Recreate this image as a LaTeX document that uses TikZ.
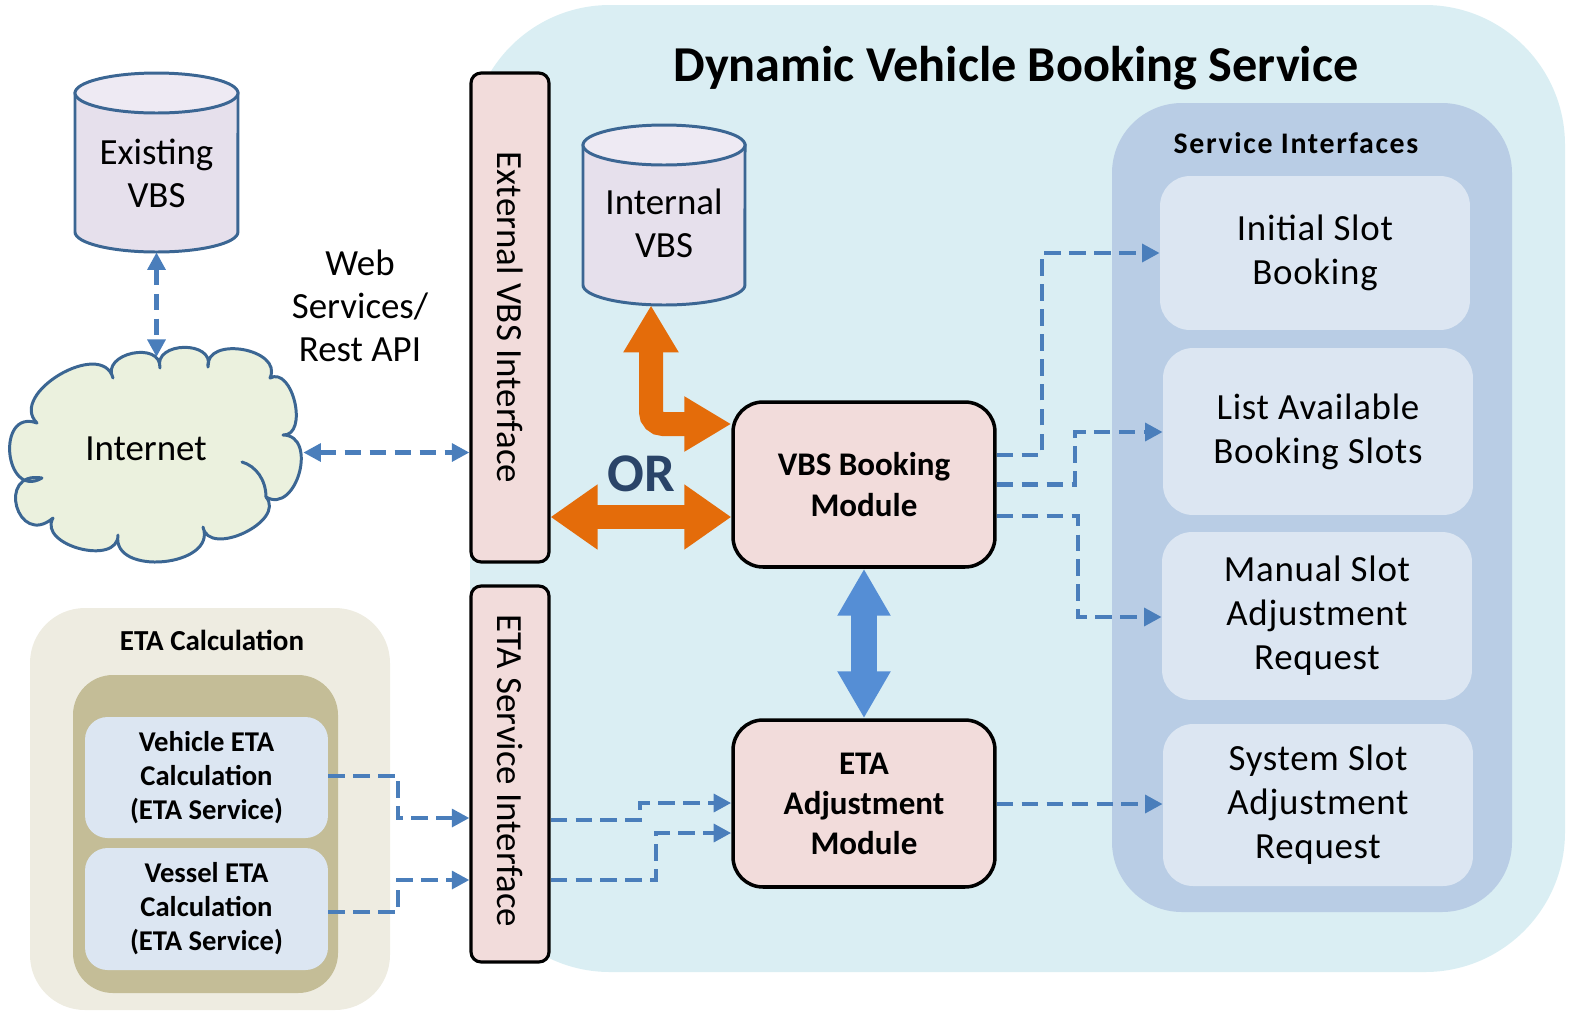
\documentclass[tikz,border=0pt]{standalone}
\usepackage{fontspec}
\setmainfont{Carlito}
\usetikzlibrary{arrows.meta}
\definecolor{bgblue}{HTML}{DAEEF3}
\definecolor{svcpanel}{HTML}{B9CDE5}
\definecolor{itemfill}{HTML}{DCE6F2}
\definecolor{etaouter}{HTML}{EEECE1}
\definecolor{etainner}{HTML}{C4BD97}
\definecolor{pinkfill}{HTML}{F2DCDB}
\definecolor{orangec}{HTML}{E46C0A}
\definecolor{bluearrc}{HTML}{558ED5}
\definecolor{dashblue}{HTML}{4A7EBB}
\definecolor{cylborder}{HTML}{3B6693}
\definecolor{cylfill}{HTML}{E6E0EC}
\definecolor{cyltop}{HTML}{EEEAF3}
\definecolor{cloudfill}{HTML}{EBF1DE}
\definecolor{orcolor}{HTML}{2A4468}
\begin{document}
\begin{tikzpicture}[x=0.02cm,y=-0.02cm,
  regtext/.style={font=\fontsize{21}{24.5}\selectfont, align=center, inner sep=0pt},
  barbox/.style={draw=black, line width=1.8pt, fill=pinkfill, rounded corners=0.2cm},
  bartext/.style={rotate=-90, font=\fontsize{21}{24}\selectfont, inner sep=0pt},
  module/.style={draw=black, line width=2pt, fill=pinkfill, rounded corners=0.6cm, minimum width=5.24cm, font=\bfseries\fontsize{18.8}{22.8}\selectfont, align=center},
  svcitem/.style={fill=itemfill, rounded corners=0.6cm, minimum width=6.2cm, font=\fontsize{21}{25}\selectfont\addfontfeature{LetterSpace=2}, align=center},
  etaitem/.style={fill=itemfill, rounded corners=0.45cm, minimum width=4.86cm, font=\bfseries\fontsize{16.3}{19.4}\selectfont, align=center},
  dashconn/.style={draw=dashblue, line width=2.8pt, dash pattern=on 9.4pt off 4.8pt, -{Triangle[length=10pt,width=10pt]}},
  dashboth/.style={dashconn, {Triangle[length=10pt,width=10pt]}-{Triangle[length=10pt,width=10pt]}},
  orangearr/.style={draw=orangec, line width=0.48cm, {Triangle[length=0.94cm,width=1.24cm]}-{Triangle[length=0.94cm,width=1.24cm]}},
  orangeelbow/.style={draw=orangec, line width=0.48cm, rounded corners=0.24cm, {Triangle[length=0.94cm,width=1.04cm]}-{Triangle[length=0.94cm,width=1.04cm]}},
  bluearr/.style={draw=bluearrc, line width=0.52cm, {Triangle[length=0.94cm,width=1.0cm]}-{Triangle[length=0.94cm,width=1.0cm]}},
  cyl/.style={draw=cylborder, line width=1.7pt},
  crease/.style={draw=cylborder, line width=1.7pt, line cap=round}
]
\useasboundingbox (0,0) rectangle (1569,1012);
% big background
\fill[bgblue, rounded corners=2.8cm] (470,5) rectangle (1565,972);
\node[font=\bfseries\fontsize{28.6}{32}\selectfont] (title) at (1016,68) {Dynamic Vehicle Booking Service};
% service interfaces panel
\fill[svcpanel, rounded corners=1.4cm] (1112,103) rectangle (1512,912);
\node[font=\bfseries\fontsize{17}{20}\selectfont\addfontfeature{LetterSpace=5.5}] (svctitle) at (1296,143) {Service Interfaces};
\node[svcitem, minimum height=3.08cm] (init) at (1315,253) {Initial Slot\\Booking};
\node[svcitem, minimum height=3.34cm] (list) at (1318,431.5) {List Available\\Booking Slots};
\node[svcitem, minimum height=3.36cm] (manual) at (1317,616) {Manual Slot\\Adjustment\\Request};
\node[svcitem, minimum height=3.24cm] (system) at (1318,805) {System Slot\\Adjustment\\Request};
% ETA calculation panel
\fill[etaouter, rounded corners=1.1cm] (30,608) rectangle (390,1010);
\node[font=\bfseries\fontsize{16.5}{20}\selectfont] (etacalctitle) at (212,640) {ETA Calculation};
\fill[etainner, rounded corners=0.8cm] (73,675) rectangle (338,993);
\node[etaitem, minimum height=2.42cm] (veh) at (206.5,777.5) {Vehicle ETA\\Calculation\\(ETA Service)};
\node[etaitem, minimum height=2.44cm] (ves) at (206.5,909) {Vessel ETA\\Calculation\\(ETA Service)};
% cylinders
\filldraw[cyl, fill=cylfill] (75,93) -- (75,232) arc[start angle=180,end angle=360,x radius=1.63cm,y radius=0.4cm] -- (238,93) -- cycle;
\filldraw[cyl, fill=cyltop] (156.5,93) ellipse[x radius=1.63cm, y radius=0.4cm];
\node[regtext, minimum height=3.14cm] (evbs) at (156.5,173.5) {Existing\\VBS};
\filldraw[cyl, fill=cylfill] (583,145) -- (583,285) arc[start angle=180,end angle=360,x radius=1.62cm,y radius=0.4cm] -- (745,145) -- cycle;
\filldraw[cyl, fill=cyltop] (664,145) ellipse[x radius=1.62cm, y radius=0.4cm];
\node[regtext, minimum height=3.26cm] (ivbs) at (664,223.5) {Internal\\VBS};
% cloud
\filldraw[cyl, fill=cloudfill, line join=round]
  (160,368) .. controls (152.8,341.1) and (215.2,340.1) .. (208,367)
  .. controls (205.2,335.0) and (283.6,348.9) .. (270,378)
  .. controls (292.9,365.9) and (308.9,436.0) .. (283,435)
  .. controls (318.5,435.2) and (296.6,514.9) .. (266,497)
  .. controls (286.6,521.1) and (208.7,558.2) .. (203,527)
  .. controls (217.8,566.8) and (110.9,576.9) .. (118,535)
  .. controls (118.2,566.6) and (37.4,545.4) .. (53,518)
  .. controls (17.2,548.5) and (-4.4,470.1) .. (42,478)
  .. controls (4.1,500.1) and (-4.3,408.1) .. (37,423)
  .. controls (7.3,393.9) and (101.8,338.0) .. (113,378)
  .. controls (100.3,353.2) and (161.5,340.2) .. (160,368) -- cycle;
\draw[crease] (242,462) .. controls (256,466) and (266,480) .. (266,497);
\node[minimum width=5.86cm, minimum height=4.3cm, inner sep=0pt] (cloud) at (156.5,452.5) {};
\coordinate (cloudtop) at (156.5,357);
\node[regtext] (inet) at (146,449) {Internet};
\node[regtext] (websvc) at (360,305.5) {Web\\Services/\\Rest API};
% interface bars
\node[barbox, minimum width=1.56cm, minimum height=9.78cm] (extbar) at (510,317.5) {};
\node[bartext] (extbartext) at (510,317.5) {External VBS Interface};
\node[barbox, minimum width=1.56cm, minimum height=7.52cm] (etabar) at (510,774) {};
\node[bartext] (etabartext) at (510,771) {ETA Service Interface};
% modules
\node[module, minimum height=3.3cm] (vbs) at (864,484.5) {VBS Booking\\Module};
\node[module, minimum height=3.34cm] (eta) at (864,803.5) {ETA\\Adjustment\\Module};
% OR
\node[font=\bfseries\fontsize{31}{34}\selectfont, text=orcolor] (or) at (641,474) {OR};
% orange arrows
\draw[orangearr] (extbar.east |- 0,517) -- (vbs.west |- 0,517);
\draw[orangeelbow] (ivbs.south -| 651,0) -- (651,424) -- (vbs.west |- 0,424);
% blue arrow
\draw[bluearr] (vbs.south) -- (eta.north);
% dashed connectors
\draw[dashboth] (evbs.south) -- (cloudtop);
\draw[dashboth] (cloud.east) -- (extbar.west |- cloud.east);
\draw[dashconn] (vbs.east |- 0,455) -| (1042,253) -- (init.west);
\draw[dashconn] (vbs.east) -| (1075,432) -- (list.west |- 0,432);
\draw[dashconn] (vbs.east |- 0,516) -| (1078,617) -- (manual.west |- 0,617);
\draw[dashconn] (eta.east |- 0,804) -- (system.west |- 0,804);
\draw[dashconn] (etabar.east |- 0,820) -| (640,803) -- (eta.west |- 0,803);
\draw[dashconn] (etabar.east |- 0,880) -| (656,833) -- (eta.west |- 0,833);
\draw[dashconn] (veh.east |- 0,776) -| (398,818) -- (etabar.west |- 0,818);
\draw[dashconn] (ves.east |- 0,912) -| (398,880) -- (etabar.west |- 0,880);
\end{tikzpicture}
\end{document}
